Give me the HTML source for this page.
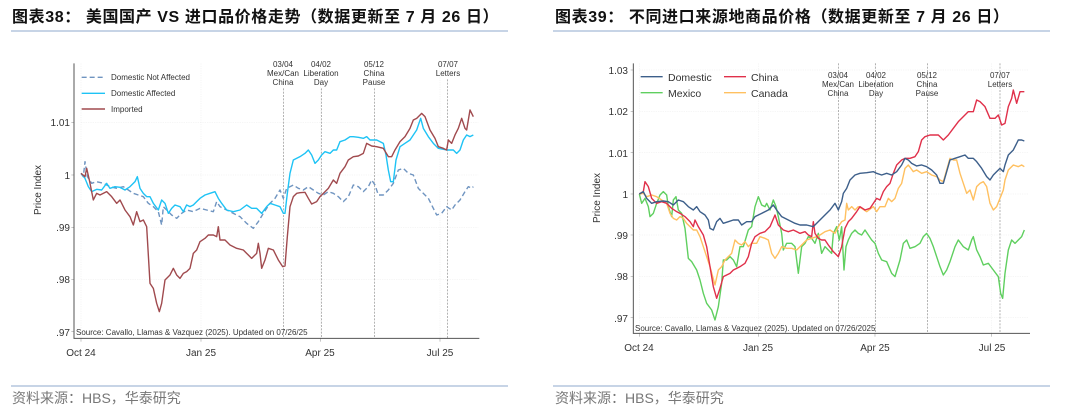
<!DOCTYPE html>
<html><head><meta charset="utf-8"><style>
html,body{margin:0;padding:0;background:#fff;width:1080px;height:416px;overflow:hidden}
svg{display:block}
.t{font-family:"Liberation Sans","Noto Sans CJK SC",sans-serif}
.s{fill:none;stroke-width:1.4;vector-effect:non-scaling-stroke;stroke-linejoin:round}
.g{stroke:#e4e4e4;stroke-width:1;stroke-dasharray:4 3;vector-effect:non-scaling-stroke}
.ev{stroke:#666;stroke-width:1.5;stroke-dasharray:6 4;vector-effect:non-scaling-stroke}
.ax{stroke:#555;stroke-width:1;vector-effect:non-scaling-stroke;fill:none}
</style></head><body>
<svg width="1080" height="416" viewBox="0 0 1080 416" xmlns="http://www.w3.org/2000/svg">
<g class="t">
<text x="12" y="22" font-size="16" font-weight="bold" fill="#111" letter-spacing="0.6">图表38：  美国国产 VS 进口品价格走势（数据更新至 7 月 26 日）</text>
<text x="555" y="22" font-size="16" font-weight="bold" fill="#111" letter-spacing="0.6">图表39：  不同进口来源地商品价格（数据更新至 7 月 26 日）</text>
<line x1="11" y1="31" x2="508" y2="31" stroke="#8faacc" stroke-width="1"/>
<line x1="553" y1="31" x2="1050" y2="31" stroke="#8faacc" stroke-width="1"/>
<line x1="11" y1="386" x2="508" y2="386" stroke="#8faacc" stroke-width="1"/>
<line x1="553" y1="386" x2="1050" y2="386" stroke="#8faacc" stroke-width="1"/>
<text x="12" y="403" font-size="14" fill="#777">资料来源：HBS，华泰研究</text>
<text x="555" y="403" font-size="14" fill="#777">资料来源：HBS，华泰研究</text>
</g>

<!-- LEFT CHART -->
<g transform="translate(0,40) scale(0.33333)">
<g class="g">
<line x1="243" y1="248" x2="1435" y2="248"/><line x1="243" y1="405" x2="1435" y2="405"/><line x1="243" y1="562" x2="1435" y2="562"/><line x1="243" y1="718" x2="1435" y2="718"/>
<line x1="243" y1="70" x2="243" y2="895"/><line x1="603" y1="70" x2="603" y2="895"/><line x1="961" y1="70" x2="961" y2="895"/><line x1="1320" y1="70" x2="1320" y2="895"/>
</g>
<g class="ev">
<line x1="850" y1="145" x2="850" y2="895"/><line x1="964" y1="145" x2="964" y2="895"/><line x1="1123" y1="145" x2="1123" y2="895"/><line x1="1343" y1="118" x2="1343" y2="895"/>
</g>
<polyline class="ax" points="222,70 222,895 1438,895"/>
<g class="ax"><line x1="214" y1="248" x2="222" y2="248"/><line x1="214" y1="405" x2="222" y2="405"/><line x1="214" y1="562" x2="222" y2="562"/><line x1="214" y1="718" x2="222" y2="718"/><line x1="214" y1="875" x2="222" y2="875"/>
<line x1="243" y1="895" x2="243" y2="905"/><line x1="603" y1="895" x2="603" y2="905"/><line x1="961" y1="895" x2="961" y2="905"/><line x1="1320" y1="895" x2="1320" y2="905"/></g>
<polyline class="s" stroke="#6f94c0" stroke-dasharray="5 3" points="243,400 250,410 255,365 262,410 275,430 290,425 310,430 330,440 350,445 370,440 385,450 400,460 415,465 430,470 445,490 460,500 475,515 485,555 490,500 500,510 515,525 530,535 545,520 560,510 580,515 600,505 620,510 640,515 650,485 660,500 680,510 700,520 720,530 740,550 760,565 775,545 790,520 810,490 825,475 840,450 850,475 860,445 880,435 895,445 910,450 925,440 940,450 955,460 970,465 985,455 1000,460 1015,470 1030,485 1045,470 1060,435 1075,440 1090,455 1105,440 1115,420 1125,435 1135,465 1150,465 1165,450 1180,430 1195,390 1210,385 1225,400 1240,405 1255,445 1270,460 1285,475 1300,505 1310,525 1325,520 1340,500 1355,510 1365,495 1380,480 1395,455 1405,440 1415,445 1420,440"/>
<polyline class="s" stroke="#1ec3f5" points="243,400 255,415 265,440 275,455 290,448 305,450 320,430 330,445 345,440 360,442 375,450 390,440 405,425 412,410 420,445 430,460 440,470 450,470 460,490 475,510 485,480 495,490 505,520 515,505 525,495 540,500 550,515 560,495 570,500 580,495 590,485 600,475 615,465 630,460 645,455 655,475 665,490 680,510 700,515 720,510 740,495 755,505 770,505 785,520 800,500 810,490 825,495 840,500 850,520 855,520 862,460 870,400 880,360 900,350 915,340 925,330 935,345 945,370 955,360 965,345 975,335 990,340 1000,330 1010,330 1020,305 1035,300 1050,290 1060,290 1075,292 1090,295 1100,290 1110,300 1130,300 1150,310 1158,345 1165,390 1172,425 1180,425 1188,360 1200,320 1215,310 1230,300 1240,285 1250,270 1262,235 1270,265 1285,290 1300,310 1315,325 1340,330 1360,330 1370,340 1380,330 1390,300 1400,285 1410,290 1420,285"/>
<polyline class="s" stroke="#a04a4e" points="243,400 255,410 260,385 268,420 280,480 290,460 300,465 320,455 335,470 350,490 360,480 375,510 390,530 400,555 410,515 420,545 430,540 440,560 450,730 460,745 470,790 478,815 485,790 495,720 510,705 520,685 530,705 540,715 550,700 560,695 570,685 580,640 590,630 600,605 615,595 625,585 640,585 650,590 655,560 660,600 675,600 690,615 710,625 730,630 740,640 755,655 770,640 775,610 780,640 785,685 795,660 805,625 820,630 835,660 848,680 855,678 862,590 870,500 880,470 890,460 900,458 915,457 925,475 935,492 950,485 960,470 970,460 985,445 1000,420 1010,430 1020,400 1035,380 1045,360 1060,350 1075,348 1090,340 1100,310 1115,318 1130,320 1150,325 1165,350 1175,350 1185,330 1200,305 1215,290 1230,265 1240,240 1250,235 1265,220 1275,230 1290,270 1305,295 1315,320 1330,325 1340,330 1345,300 1355,310 1365,285 1375,265 1385,235 1395,265 1400,270 1410,210 1420,230"/>
<line class="s" stroke="#6f94c0" stroke-dasharray="5 3" x1="245" y1="112" x2="315" y2="112"/>
<line class="s" stroke="#1ec3f5" x1="245" y1="160" x2="315" y2="160"/>
<line class="s" stroke="#a04a4e" x1="245" y1="207" x2="315" y2="207"/>
</g>
<g class="t" fill="#333">
<text x="111" y="80" font-size="8">Domestic Not Affected</text>
<text x="111" y="96" font-size="8">Domestic Affected</text>
<text x="111" y="112" font-size="8">Imported</text>
<g font-size="8" text-anchor="middle">
<text x="283" y="67">03/04</text><text x="283" y="76">Mex/Can</text><text x="283" y="85">China</text>
<text x="321" y="67">04/02</text><text x="321" y="76">Liberation</text><text x="321" y="85">Day</text>
<text x="374" y="67">05/12</text><text x="374" y="76">China</text><text x="374" y="85">Pause</text>
<text x="448" y="67">07/07</text><text x="448" y="76">Letters</text>
</g>
<text x="76" y="335" font-size="8">Source: Cavallo, Llamas &amp; Vazquez (2025). Updated on 07/26/25</text>
<g font-size="10" text-anchor="end">
<text x="70" y="126">1.01</text><text x="70" y="179">1</text><text x="70" y="231">.99</text><text x="70" y="283">.98</text><text x="70" y="336">.97</text>
</g>
<text transform="translate(41,190) rotate(-90)" font-size="10" text-anchor="middle">Price Index</text>
<g font-size="10" text-anchor="middle">
<text x="81" y="356">Oct 24</text><text x="201" y="356">Jan 25</text><text x="320" y="356">Apr 25</text><text x="440" y="356">Jul 25</text>
</g>
</g>

<!-- RIGHT CHART -->
<g transform="translate(540,40) scale(0.33333)">
<g class="g">
<line x1="298" y1="90" x2="1465" y2="90"/><line x1="298" y1="214" x2="1465" y2="214"/><line x1="298" y1="338" x2="1465" y2="338"/><line x1="298" y1="462" x2="1465" y2="462"/><line x1="298" y1="585" x2="1465" y2="585"/><line x1="298" y1="709" x2="1465" y2="709"/><line x1="298" y1="833" x2="1465" y2="833"/>
<line x1="298" y1="70" x2="298" y2="880"/><line x1="655" y1="70" x2="655" y2="880"/><line x1="1005" y1="70" x2="1005" y2="880"/><line x1="1355" y1="70" x2="1355" y2="880"/>
</g>
<g class="ev">
<line x1="895" y1="70" x2="895" y2="880"/><line x1="1007" y1="70" x2="1007" y2="880"/><line x1="1162" y1="70" x2="1162" y2="880"/><line x1="1380" y1="70" x2="1380" y2="880"/>
</g>
<polyline class="ax" points="280,70 280,880 1470,880"/>
<g class="ax"><line x1="272" y1="90" x2="280" y2="90"/><line x1="272" y1="214" x2="280" y2="214"/><line x1="272" y1="338" x2="280" y2="338"/><line x1="272" y1="462" x2="280" y2="462"/><line x1="272" y1="585" x2="280" y2="585"/><line x1="272" y1="709" x2="280" y2="709"/><line x1="272" y1="833" x2="280" y2="833"/>
<line x1="298" y1="880" x2="298" y2="890"/><line x1="655" y1="880" x2="655" y2="890"/><line x1="1005" y1="880" x2="1005" y2="890"/><line x1="1355" y1="880" x2="1355" y2="890"/></g>
<polyline class="s" stroke="#5fcf5f" points="298,462 305,490 315,475 325,500 330,530 340,520 350,490 360,465 370,455 380,465 385,500 395,530 400,480 408,470 415,510 425,520 435,565 445,655 455,665 470,690 480,720 490,760 500,790 515,810 525,840 535,800 545,730 550,660 560,660 570,650 580,660 590,680 600,620 610,620 625,570 635,560 645,500 655,470 665,495 675,500 680,490 690,510 700,480 708,500 715,530 725,580 730,630 740,610 755,610 765,620 775,700 785,620 795,610 805,590 815,595 825,610 835,580 845,640 855,620 865,630 875,640 880,580 890,560 898,600 905,560 912,690 918,620 925,600 935,580 945,570 955,580 965,585 975,570 985,585 995,600 1005,610 1015,640 1025,660 1040,665 1055,700 1065,710 1080,660 1090,610 1100,600 1110,625 1125,620 1140,610 1150,590 1160,580 1170,595 1180,620 1190,650 1200,680 1210,705 1220,690 1230,665 1245,620 1255,600 1270,620 1285,630 1295,600 1300,590 1310,630 1320,650 1330,675 1345,670 1360,690 1375,710 1382,760 1388,775 1395,700 1405,630 1415,600 1425,610 1435,600 1445,590 1453,570"/>
<polyline class="s" stroke="#ffc060" points="298,462 310,460 320,470 335,465 350,470 365,480 380,490 390,520 400,535 410,540 420,530 430,535 440,550 450,560 460,570 470,570 480,590 490,620 500,650 510,680 525,735 535,690 545,680 555,660 565,650 575,640 585,600 595,610 605,615 615,605 625,620 635,610 650,610 660,590 675,595 685,600 695,640 705,655 715,640 725,620 740,625 755,625 770,630 785,615 800,600 815,595 830,590 840,585 855,575 870,570 885,580 895,560 905,545 915,540 920,490 925,510 935,500 945,510 955,500 965,505 980,515 1000,500 1010,515 1020,500 1035,500 1045,475 1055,485 1065,475 1075,445 1085,430 1095,385 1105,375 1120,395 1130,390 1145,400 1160,395 1175,405 1190,410 1200,420 1210,425 1220,390 1230,355 1240,360 1250,360 1260,400 1270,430 1280,460 1290,450 1300,480 1310,440 1320,430 1330,425 1340,440 1350,490 1360,510 1370,500 1380,475 1390,450 1395,420 1405,390 1420,375 1435,380 1445,375 1453,380"/>
<polyline class="s" stroke="#e0304a" points="298,462 310,455 315,425 325,440 335,475 350,490 365,485 380,490 395,505 410,515 420,520 435,530 450,545 460,560 465,540 475,560 490,585 500,620 510,680 520,740 530,775 540,745 550,710 560,705 570,700 580,690 590,685 600,680 615,670 625,650 635,610 645,590 660,580 675,575 690,560 705,525 715,555 730,570 745,575 760,570 770,575 780,580 795,575 805,585 815,590 820,545 825,580 835,595 845,600 855,600 865,615 880,635 895,650 905,620 915,565 925,545 935,535 950,515 960,500 975,510 990,505 1000,490 1010,475 1020,480 1030,455 1040,440 1050,430 1060,400 1070,375 1085,360 1095,355 1110,355 1125,350 1135,335 1145,300 1155,290 1170,285 1195,285 1210,300 1225,285 1240,265 1255,245 1270,230 1285,215 1300,215 1310,180 1320,185 1335,200 1350,235 1365,235 1375,225 1385,255 1395,250 1405,200 1415,175 1420,150 1430,190 1440,155 1453,155"/>
<polyline class="s" stroke="#3d5f8a" points="298,462 310,455 320,475 335,490 350,485 370,483 385,485 400,495 415,480 430,485 445,500 460,510 470,500 480,515 495,525 505,540 510,565 520,570 530,545 540,535 550,550 565,545 580,540 595,540 605,555 620,545 635,545 645,530 665,520 685,510 700,495 710,510 725,530 745,540 765,550 780,555 800,555 820,560 835,545 850,530 870,510 885,490 895,510 905,485 910,460 920,445 930,420 945,405 960,400 980,398 1000,395 1010,400 1025,405 1040,400 1055,405 1070,395 1085,375 1095,355 1105,360 1115,370 1130,378 1145,375 1160,380 1175,390 1190,405 1200,430 1210,430 1220,395 1230,360 1245,355 1260,350 1275,345 1285,355 1300,355 1310,365 1325,385 1340,410 1350,420 1360,405 1370,395 1380,385 1390,395 1395,375 1405,345 1420,330 1435,300 1445,300 1453,303"/>
<line class="s" stroke="#3d5f8a" x1="302" y1="110" x2="368" y2="110"/>
<line class="s" stroke="#e0304a" x1="552" y1="110" x2="618" y2="110"/>
<line class="s" stroke="#5fcf5f" x1="302" y1="158" x2="368" y2="158"/>
<line class="s" stroke="#ffc060" x1="552" y1="158" x2="618" y2="158"/>
</g>
<g class="t" fill="#333">
<text x="668" y="81" font-size="10.5">Domestic</text>
<text x="751" y="81" font-size="10.5">China</text>
<text x="668" y="97" font-size="10.5">Mexico</text>
<text x="751" y="97" font-size="10.5">Canada</text>
<g font-size="8" text-anchor="middle">
<text x="838" y="78">03/04</text><text x="838" y="87">Mex/Can</text><text x="838" y="96">China</text>
<text x="876" y="78">04/02</text><text x="876" y="87">Liberation</text><text x="876" y="96">Day</text>
<text x="927" y="78">05/12</text><text x="927" y="87">China</text><text x="927" y="96">Pause</text>
<text x="1000" y="78">07/07</text><text x="1000" y="87">Letters</text>
</g>
<text x="635" y="331" font-size="8">Source: Cavallo, Llamas &amp; Vazquez (2025). Updated on 07/26/2025</text>
<g font-size="10" text-anchor="end">
<text x="628" y="74">1.03</text><text x="628" y="115">1.02</text><text x="628" y="157">1.01</text><text x="628" y="198">1</text><text x="628" y="239">.99</text><text x="628" y="280">.98</text><text x="628" y="322">.97</text>
</g>
<text transform="translate(600,198) rotate(-90)" font-size="10" text-anchor="middle">Price Index</text>
<g font-size="10" text-anchor="middle">
<text x="639" y="351">Oct 24</text><text x="758" y="351">Jan 25</text><text x="875" y="351">Apr 25</text><text x="992" y="351">Jul 25</text>
</g>
</g>
</svg>
</body></html>
